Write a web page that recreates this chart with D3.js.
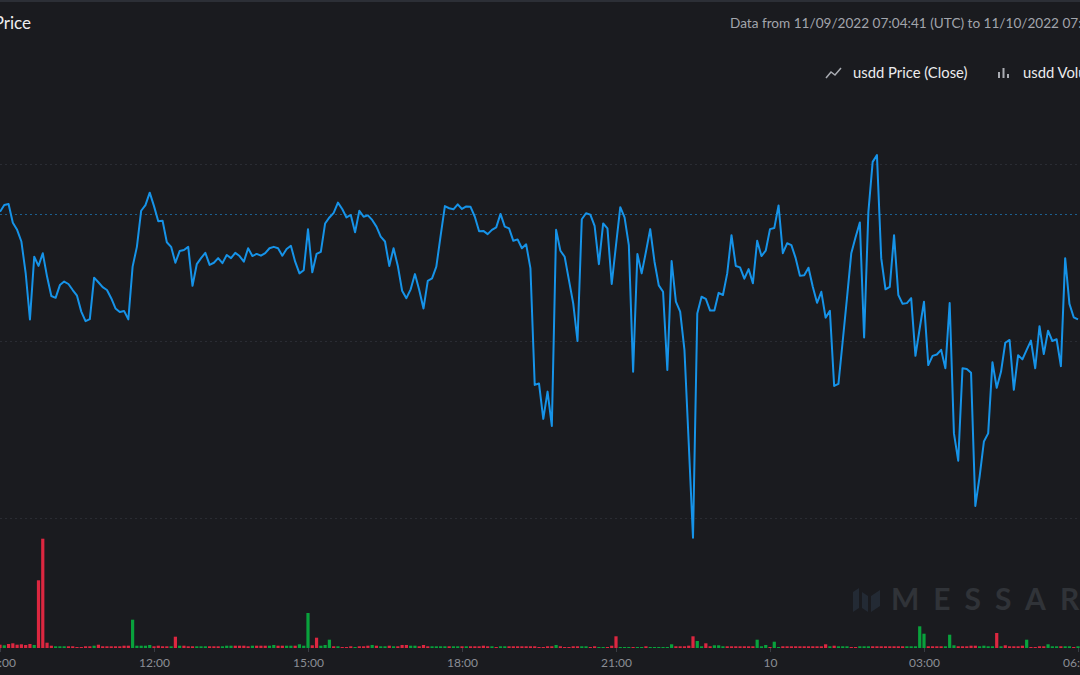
<!DOCTYPE html>
<html><head><meta charset="utf-8">
<script src="https://cdn.jsdelivr.net/npm/d3@7"></script>
<style>
html,body{margin:0;padding:0;background:#1a1b1f;overflow:hidden}
svg{display:block}
text{font-family:Lato,"Open Sans",sans-serif}
</style></head><body>
<svg id="c" width="1080" height="675"></svg>
<script>
// ---- data (5-minute candles, UTC) ----
const startTime = "2022-11-09T09:00:00Z";
const intervalMinutes = 5;
// close price in units of 1e-5 USD
const priceClose = [
97865,97884,97887,97834,97814,97781,97692,97561,97738,97712,
97748,97682,97627,97622,97658,97668,97661,97644,97628,97583,
97556,97562,97679,97666,97652,97644,97621,97592,97582,97585,
97561,97710,97766,97868,97884,97919,97881,97838,97840,97779,
97766,97721,97754,97757,97766,97656,97717,97734,97749,97715,
97721,97734,97720,97743,97734,97749,97740,97724,97762,97740,
97746,97741,97748,97762,97766,97762,97741,97760,97769,97724,
97691,97700,97816,97694,97746,97752,97832,97849,97862,97891,
97873,97849,97856,97807,97868,97851,97855,97842,97823,97795,
97781,97712,97762,97712,97642,97621,97646,97689,97644,97592,
97670,97677,97710,97797,97881,97875,97872,97886,97873,97880,
97879,97851,97810,97811,97802,97814,97821,97859,97823,97818,
97783,97787,97762,97773,97705,97376,97380,97280,97357,97260,
97814,97755,97738,97672,97606,97500,97844,97861,97857,97825,
97717,97832,97818,97661,97771,97878,97849,97771,97413,97746,
97691,97752,97816,97724,97657,97639,97418,97726,97611,97583,
97475,97212,96944,97578,97625,97619,97586,97586,97636,97630,
97691,97799,97712,97708,97676,97703,97663,97783,97740,97755,
97816,97819,97883,97748,97776,97771,97734,97684,97686,97707,
97653,97608,97639,97566,97585,97373,97379,97500,97622,97748,
97793,97835,97510,97865,98006,98025,97734,97646,97653,97799,
97630,97605,97607,97621,97458,97536,97611,97432,97458,97462,
97475,97423,97607,97239,97162,97423,97421,97410,97034,97117,
97216,97239,97440,97368,97413,97495,97503,97362,97460,97448,
97475,97501,97423,97542,97463,97529,97500,97505,97429,97734,
97605,97567,97561];
// volume (thousand USD)
const volume = [
3.3,2.7,4,4.7,3.3,3.7,3,4,3,67.7,
109.3,5.3,2.3,1.7,1.7,1.7,1.7,1.7,1,1,
1.7,1.7,2.3,3.3,1.7,1.7,1.7,1.7,1.7,2.3,
2.3,28.3,2.3,2.3,2.3,3,1.7,2.3,1.7,1.7,
1.7,11.3,2.3,2.3,1.7,1.7,1.7,1.7,1.7,1.7,
1.7,1.7,1.7,2.3,2.3,2.3,2.3,2.3,1.7,2.3,
2.3,2.3,2.3,2.3,3,2.3,2.3,2.3,2.3,2.3,
3.7,2.3,35,2.7,10.3,2.3,3,8.3,1.7,1.7,
1,1,1.7,1,1.7,1.7,2.3,3,2.3,1.7,
1.7,2.3,1.7,1.7,3,3,2.3,2.3,1.7,3,
1.7,1.7,1.7,1.7,1.7,1.7,1.7,1.7,1.7,1.7,
1.7,1.7,1.7,2.3,1.7,1.7,1,1.7,1.7,1.7,
1.7,1.7,1.7,1.7,1.7,1.7,1,1,1.7,1.7,
3,1.7,1,1,1.7,1.7,1.7,1.7,1,1.7,
1,1,1,2.3,11.7,1,1,1,1,1,
1,1.7,1,1,1,1,1,3.7,1.7,1.7,
1.7,2.3,11.7,7,1.7,4.7,1.7,2.7,2.7,1.7,
1.7,1.7,1.7,1.7,1.7,1.7,1.7,8.3,1.7,3,
1,6.3,1,1.7,1.7,1.7,1.7,1.7,1.7,1.7,
1.7,1.7,1.7,3.7,1.7,2.3,1.7,1.7,1.7,1,
1,1.7,1.7,1.7,1.7,1.7,1.7,1.7,1.7,1.7,
1.7,1.7,1.7,1.7,1.7,21.7,14.3,1.7,1.7,1.7,
1.7,1.7,13.3,2.7,1.7,1.7,1.7,2.3,2.3,1.7,
2.3,1.7,1.7,15,1.7,2.7,1.7,1.7,1.7,2.3,
8.3,1,1,1.7,1.7,3.7,1.7,1.7,1.7,1.7,
1.7,1,1.7];
// candle direction per bar: g = up, r = down (10 per chunk)
const volumeSideChunks = [
"rgrrrrrrgr","rrrgggrrrr","rrgrrrrrrr","rgggggrrrr","grgrrrgggr",
"rrgggrrrrg","rrrggrrggr","gggrrgggrg","rrrgrrrgrg","grgrrrggrr",
"rggggrggrg","rrrrrgrggr","rrrrrrrrrr","grrrrrggrr","ggrrrgggrg",
"grggggggrr","rrrggrrggg","rrrrrrrggg","rggrrrrrrr","rrrrgrgggr",
"rgggrrrrrr","rrgggggrrr","rgggrrrrrg","gggrgrrrrr","grrrrgggrg",
"grg"];
const priceGridTicks = [0.970, 0.975, 0.980];
const refPrice = 0.97859;
const timeTicks = ["2022-11-09T09:00:00Z","2022-11-09T12:00:00Z","2022-11-09T15:00:00Z",
  "2022-11-09T18:00:00Z","2022-11-09T21:00:00Z","2022-11-10T00:00:00Z",
  "2022-11-10T03:00:00Z","2022-11-10T06:00:00Z"];
const timeTickLabels = ["09:00","12:00","15:00","18:00","21:00","10","03:00","06:00"];
const titleText = "usdd Price";
const rangeText = "Data from 11/09/2022 07:04:41 (UTC) to 11/10/2022 07:04:41 (UTC)";
const legendItems = ["usdd Price (Close)", "usdd Volume"];

// ---- build ----
const volumeSide = volumeSideChunks.join("").split("");
const t0 = new Date(startTime).getTime();
const rows = priceClose.map((p, i) => ({
  t: new Date(t0 + i * intervalMinutes * 60000),
  price: p / 1e5,
  vol: volume[i],
  side: volumeSide[i]
}));

const svg = d3.select("#c");
const W = 1080, H = 675;
svg.append("rect").attr("width", W).attr("height", H).attr("fill", "#1a1b1f");
svg.append("rect").attr("width", W).attr("height", 2).attr("fill", "#2c2f36");

const x = d3.scaleUtc()
  .domain([new Date(timeTicks[0]), new Date(timeTicks[timeTicks.length - 1])])
  .range([0, 1078]);
const y = d3.scaleLinear().domain([0.970, 0.980]).range([518, 164]);
const yv = d3.scaleLinear().domain([0, 120]).range([648, 528]);

// grid
svg.append("g").selectAll("line").data(priceGridTicks).join("line")
  .attr("x1", 0).attr("x2", W)
  .attr("y1", d => Math.round(y(d)) + 0.5).attr("y2", d => Math.round(y(d)) + 0.5)
  .attr("stroke", "#2a2c33").attr("stroke-width", 1).attr("stroke-dasharray", "2,3");

// reference price line
svg.append("line")
  .attr("x1", 0).attr("x2", W)
  .attr("y1", Math.round(y(refPrice)) + 0.5).attr("y2", Math.round(y(refPrice)) + 0.5)
  .attr("stroke", "#1b5f8f").attr("stroke-width", 1).attr("stroke-dasharray", "2,3");

// watermark
const wm = svg.append("g").attr("transform", "translate(853,588)");
wm.append("path")
  .attr("d", "M0,4 L6,0 L6,20 L0,24 Z M9,4 L15,8 L15,24 L9,20 Z M18,8 L27,2 L27,18 L18,24 Z")
  .attr("fill", "#232a34");
svg.append("text").attr("x", 891).attr("y", 610)
  .attr("font-size", 30).attr("font-weight", 700).attr("letter-spacing", 14)
  .attr("fill", "#303338").text("MESSARI");

// volume bars
svg.append("g").selectAll("rect").data(rows).join("rect")
  .attr("x", d => x(d.t) - 1.6)
  .attr("width", 3.2)
  .attr("y", d => yv(d.vol))
  .attr("height", d => yv(0) - yv(d.vol))
  .attr("fill", d => d.side === "g" ? "#09a23c" : "#dc2740");

// price line
svg.append("path").datum(rows)
  .attr("d", d3.line().x(d => x(d.t)).y(d => y(d.price)))
  .attr("fill", "none").attr("stroke", "#1693e8").attr("stroke-width", 2)
  .attr("stroke-linejoin", "round");

// x axis
const ax = svg.append("g").attr("transform", "translate(0,648)");
ax.call(d3.axisBottom(x).tickValues(timeTicks.map(s => new Date(s)))
  .tickFormat((d, i) => timeTickLabels[i]).tickSize(4).tickPadding(6));
ax.select(".domain").remove();
ax.selectAll(".tick line").attr("stroke", "#3a3d44");
ax.selectAll(".tick text").attr("fill", "#8b8e95").attr("font-size", 12)
  .attr("font-family", "Lato, 'Open Sans', sans-serif");

// title & header
svg.append("text").attr("x", 31).attr("y", 29).attr("text-anchor", "end")
  .attr("font-size", 17).attr("fill", "#eeeef0").text(titleText);
svg.append("text").attr("x", 730).attr("y", 28)
  .attr("font-size", 13.6).attr("fill", "#a2a5ac").text(rangeText);

// legend
const lg = svg.append("g");
lg.append("path").attr("d", "M826,78 L831,72 L835,75 L841,68")
  .attr("fill", "none").attr("stroke", "#a9acb2").attr("stroke-width", 1.5);
lg.append("text").attr("x", 853).attr("y", 78).attr("font-size", 14.8)
  .attr("fill", "#ececee").text(legendItems[0]);
lg.append("g").selectAll("rect").data([6, 10, 4]).join("rect")
  .attr("x", (d, i) => 998 + i * 4.5).attr("y", d => 78 - d)
  .attr("width", 2).attr("height", d => d).attr("fill", "#a9acb2");
lg.append("text").attr("x", 1023).attr("y", 78).attr("font-size", 14.8)
  .attr("fill", "#ececee").text(legendItems[1]);
</script>
</body></html>
